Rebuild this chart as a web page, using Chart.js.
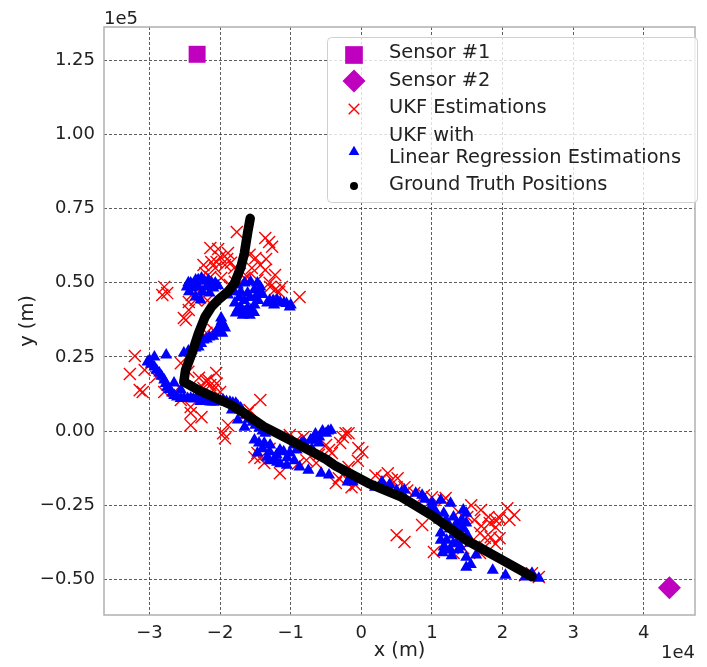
<!DOCTYPE html>
<html>
<head>
<meta charset="utf-8">
<script src="https://cdn.jsdelivr.net/npm/chart.js@4.4.1/dist/chart.umd.min.js"></script>
<style>
  html, body { margin: 0; padding: 0; background: #fff; }
  #wrap { width: 707px; height: 667px; }
</style>
</head>
<body>
<div id="wrap"><canvas id="trackChart" width="707" height="667"></canvas></div>
<script>
// ==================== DATA (x in 1e4 m, y in 1e5 m) ====================
const xTicks = [-3, -2, -1, 0, 1, 2, 3, 4];
const xTickLabels = ['−3', '−2', '−1', '0', '1', '2', '3', '4'];
const yTicks = [-0.5, -0.25, 0, 0.25, 0.5, 0.75, 1.0, 1.25];
const yTickLabels = ['−0.50', '−0.25', '0.00', '0.25', '0.50', '0.75', '1.00', '1.25'];

const sensor1 = [[-2.326, 1.270]];
const sensor2 = [[4.364, -0.528]];

// red crosses
const ukfPts = [
  [-1.764,0.671],[-1.361,0.651],[-1.306,0.637],[-1.264,0.621],[-2.139,0.617],[-2.028,0.614],
  [-1.889,0.600],[-2.000,0.587],[-1.583,0.594],[-1.500,0.583],[-1.431,0.560],[-2.236,0.560],
  [-2.125,0.570],[-2.069,0.550],[-1.931,0.560],[-1.847,0.567],[-2.208,0.533],[-2.139,0.519],
  [-1.361,0.543],[-1.222,0.526],[-1.611,0.519],[-1.472,0.509],[-1.792,0.503],[-1.653,0.516],
  [-2.792,0.486],[-2.819,0.459],[-2.750,0.465],[-2.403,0.459],[-2.444,0.435],[-2.347,0.442],
  [-1.222,0.476],[-1.292,0.486],[-1.125,0.486],[-1.167,0.469],[-0.875,0.452],[-2.444,0.408],
  [-2.514,0.381],[-1.986,0.516],[-1.861,0.492],[-3.208,0.253],[-3.278,0.192],[-3.069,0.206],
  [-3.139,0.138],[-3.097,0.132],[-2.903,0.182],[-2.792,0.132],[-2.556,0.229],[-2.583,0.148],
  [-2.417,0.081],[-2.417,0.061],[-2.417,0.020],[-2.264,0.047],[-2.167,0.172],[-2.139,0.155],
  [-2.097,0.138],[-2.056,0.196],[-2.236,0.145],[-2.000,0.132],[-2.097,0.341],[-2.194,0.331],
  [-1.431,0.105],[-1.583,0.071],[-1.889,0.020],[-1.958,-0.007],[-1.931,-0.024],[-2.333,0.128],
  [-2.556,0.105],[-1.431,-0.091],[-1.153,-0.142],[-1.375,-0.108],[-1.514,-0.088],[-0.819,-0.020],
  [-0.917,-0.030],[-0.639,-0.108],[-0.458,-0.064],[-0.264,-0.020],[-0.181,-0.007],[-0.500,-0.047],
  [-1.611,0.061],[-1.472,-0.074],[-1.014,-0.013],[-0.778,-0.098],[-0.417,-0.074],[-0.042,-0.057],
  [0.014,-0.071],[-0.181,-0.121],[-0.264,-0.148],[-0.139,-0.189],[-0.361,-0.175],[0.375,-0.142],
  [0.514,-0.159],[0.292,-0.159],[0.431,-0.165],[-0.222,-0.007],[-0.319,-0.159],[-0.083,-0.182],
  [0.500,-0.189],[0.611,-0.189],[0.750,-0.209],[0.889,-0.216],[1.000,-0.223],[1.194,-0.226],
  [1.694,-0.266],[1.819,-0.310],[1.903,-0.324],[1.681,-0.344],[1.833,-0.358],[1.958,-0.361],
  [2.069,-0.260],[2.167,-0.283],[2.097,-0.300],[1.958,-0.293],[0.861,-0.317],[0.500,-0.351],
  [0.611,-0.374],[1.028,-0.408],[1.306,-0.411],[1.444,-0.395],[2.417,-0.479],[2.319,-0.486],
  [2.514,-0.492],[1.167,-0.233],[1.028,-0.256],[1.750,-0.391],[1.681,-0.411],[-2.486,0.374],
  [1.556,-0.250],[1.375,-0.273],
  [-1.900,0.580],[-2.050,0.570],[-1.800,0.550],[-1.350,0.580],[-1.300,0.500],[-1.720,0.530],
  [-1.550,0.550],[-2.180,0.440],[-2.300,0.470],[-2.200,0.170],[-2.050,0.160],[-2.300,0.180],
  [-2.450,0.200],[-1.300,-0.060],[-0.900,-0.110],[-0.600,-0.080],[-0.300,-0.040],[-0.050,-0.100],
  [1.700,-0.320],[1.800,-0.290],[1.600,-0.300],[1.900,-0.300],[1.500,-0.290],[1.750,-0.360],
  [1.900,-0.380],[0.200,-0.150],[0.650,-0.200]
];

// blue triangles
const ukfLrPts = [
  [-2.417,0.499],[-2.347,0.509],[-2.264,0.516],[-2.167,0.509],[-2.069,0.499],[-2.403,0.482],
  [-2.306,0.486],[-2.194,0.486],[-2.097,0.482],[-2.472,0.486],[-2.347,0.452],[-2.278,0.442],
  [-1.847,0.486],[-1.750,0.492],[-1.653,0.499],[-1.569,0.503],[-1.472,0.499],[-1.708,0.469],
  [-1.611,0.465],[-1.514,0.476],[-1.431,0.486],[-1.792,0.432],[-1.708,0.418],[-1.611,0.415],
  [-1.514,0.425],[-1.778,0.398],[-1.653,0.401],[-1.569,0.408],[-1.889,0.459],[-1.333,0.432],
  [-1.194,0.442],[-1.097,0.432],[-1.014,0.418],[-1.236,0.425],[-1.986,0.381],[-1.958,0.358],
  [-2.000,0.341],[-1.931,0.347],[-2.056,0.331],[-2.153,0.317],[-2.236,0.307],[-2.306,0.283],
  [-2.403,0.273],[-2.514,0.263],[-2.764,0.256],[-2.931,0.250],[-3.028,0.233],
  [-3.000,0.239],[-2.931,0.216],[-2.861,0.196],[-2.792,0.172],[-2.750,0.148],[-2.681,0.128],
  [-2.611,0.115],[-2.514,0.111],[-2.417,0.111],[-2.333,0.111],[-2.236,0.105],[-2.139,0.098],
  [-2.056,0.098],[-1.958,0.105],[-1.861,0.098],[-1.778,0.094],[-1.722,0.071],[-1.639,0.054],
  [-1.542,0.030],[-1.444,0.010],[-1.361,-0.007],[-2.653,0.162],[-2.556,0.138],[-1.833,0.071],
  [-1.750,0.037],[-1.653,0.013],[-1.514,-0.030],[-1.375,-0.040],[-1.292,-0.047],[-1.153,-0.064],
  [-1.014,-0.074],[-0.917,-0.064],[-0.778,-0.054],[-0.639,-0.030],[-0.500,-0.007],[-0.431,0.003],
  [-1.472,-0.074],[-1.333,-0.088],[-1.194,-0.105],[-1.056,-0.115],[-0.875,-0.121],[-0.750,-0.132],
  [-0.569,-0.142],[-0.458,-0.148],[-0.194,-0.172],[-1.708,0.078],[-0.597,-0.020],[-0.694,-0.030],
  [-0.819,-0.037],[-0.958,-0.047],[-1.236,-0.098],[-0.125,-0.172],[0.292,-0.172],[0.569,-0.206],
  [-0.181,-0.165],[0.194,-0.189],[0.611,-0.199],[0.861,-0.216],[0.986,-0.256],[1.125,-0.233],
  [1.264,-0.243],[1.167,-0.277],[1.306,-0.290],[1.444,-0.266],[1.486,-0.277],[1.403,-0.324],
  [1.486,-0.310],[1.125,-0.344],[1.208,-0.368],[1.167,-0.391],[1.264,-0.401],[1.347,-0.378],
  [1.444,-0.368],[1.542,-0.378],[1.486,-0.425],[1.625,-0.418],[1.486,-0.459],[1.861,-0.469],
  [2.042,-0.486],[2.319,-0.492],[2.417,-0.479],[2.514,-0.496],[1.125,-0.368],[1.236,-0.317],
  [1.333,-0.334],
  [-2.450,0.500],[-2.380,0.495],[-2.310,0.510],[-2.220,0.505],[-2.120,0.500],[-2.030,0.490],
  [-2.440,0.470],[-2.250,0.470],[-2.150,0.465],[-1.800,0.470],[-1.730,0.450],[-1.660,0.440],
  [-1.580,0.450],[-1.500,0.450],[-1.450,0.470],[-1.750,0.410],[-1.680,0.390],[-1.580,0.390],
  [-1.520,0.400],[-1.460,0.440],[-1.400,0.460],[-1.300,0.440],[-1.250,0.440],[-1.150,0.435],
  [-1.060,0.430],[-1.000,0.425],[-1.980,0.370],[-2.020,0.350],[-1.970,0.330],[-2.100,0.320],
  [-2.190,0.310],[-2.270,0.295],[-2.350,0.280],[-2.450,0.270],
  [-2.980,0.225],[-2.900,0.205],[-2.830,0.185],[-2.770,0.160],[-2.720,0.140],
  [-2.650,0.120],[-2.560,0.110],[-2.460,0.110],[-2.380,0.108],[-2.280,0.100],[-2.190,0.100],
  [-2.100,0.098],[-2.000,0.100],[-1.910,0.100],[-1.820,0.095],[-1.750,0.085],[-1.680,0.065],
  [-1.600,0.040],[-1.500,0.020],[-1.400,0.000],[-1.450,-0.040],[-1.400,-0.060],[-1.300,-0.070],
  [-1.200,-0.080],[-1.100,-0.070],[-1.050,-0.090],[-1.300,-0.100],[-1.150,-0.110],[-0.950,-0.100],
  [-0.850,-0.040],[-0.720,-0.030],[-0.650,-0.010],[-0.550,0.000],[-0.470,0.000],[-0.600,-0.040],
  [-0.700,-0.060],[0.900,-0.230],[1.000,-0.240],[1.050,-0.270],[1.100,-0.300],[1.200,-0.300],
  [1.250,-0.330],[1.300,-0.350],[1.350,-0.310],[1.420,-0.300],[1.450,-0.330],[1.500,-0.350],
  [1.400,-0.390],[1.300,-0.380],[1.200,-0.400],[1.150,-0.410],[1.280,-0.420],[1.380,-0.400],
  [1.550,-0.450],[0.770,-0.210],[0.500,-0.200],[0.400,-0.180]
];

// ground truth track
const truthPts = [
  [-1.574,0.717],[-1.611,0.668],[-1.657,0.599],[-1.704,0.554],[-1.796,0.498],[-1.889,0.470],
  [-2.028,0.442],[-2.121,0.419],[-2.213,0.385],[-2.306,0.330],[-2.399,0.262],[-2.490,0.206],
  [-2.514,0.166],[-2.306,0.138],[-1.843,0.088],[-1.657,0.060],[-1.379,0.015],[-1.010,-0.030],
  [-0.500,-0.095],[-0.361,-0.118],[0.101,-0.176],[0.565,-0.222],[1.028,-0.289],[1.490,-0.368],
  [1.954,-0.429],[2.417,-0.491]
];

const toXY = pts => pts.map(p => ({ x: p[0], y: p[1] }));

const FONT = '"DejaVu Sans", sans-serif';
const TEXT = '#222';

// ==================== FRAME, OFFSET TEXT, LEGEND ====================
const legendRows = [
  { ds: 0, my: 55, ty: [53] },
  { ds: 1, my: 81, ty: [81] },
  { ds: 2, my: 109, ty: [108] },
  { ds: 3, my: 152, ty: [136, 158] },
  { ds: 4, my: 186, ty: [185] }
];

function roundedRect(ctx, x, y, w, h, r) {
  ctx.beginPath();
  ctx.moveTo(x + r, y);
  ctx.lineTo(x + w - r, y);
  ctx.arcTo(x + w, y, x + w, y + r, r);
  ctx.lineTo(x + w, y + h - r);
  ctx.arcTo(x + w, y + h, x + w - r, y + h, r);
  ctx.lineTo(x + r, y + h);
  ctx.arcTo(x, y + h, x, y + h - r, r);
  ctx.lineTo(x, y + r);
  ctx.arcTo(x, y, x + r, y, r);
  ctx.closePath();
}

const decorations = {
  id: 'decorations',
  afterDraw(chart) {
    const { ctx, chartArea: a } = chart;
    ctx.save();

    // axes frame
    ctx.strokeStyle = '#b0b0b0';
    ctx.lineWidth = 1.5;
    ctx.strokeRect(a.left, a.top, a.right - a.left, a.bottom - a.top);

    // offset text of both axes
    ctx.fillStyle = TEXT;
    ctx.font = '18px ' + FONT;
    ctx.textBaseline = 'alphabetic';
    ctx.textAlign = 'left';
    ctx.fillText('1e5', a.left, 24);
    ctx.textAlign = 'right';
    ctx.fillText('1e4', a.right, 658);

    // legend box
    roundedRect(ctx, 327.5, 37.5, 370, 165, 4);
    ctx.fillStyle = 'rgba(255,255,255,0.8)';
    ctx.fill();
    ctx.strokeStyle = '#d0d0d0';
    ctx.lineWidth = 1;
    ctx.stroke();

    ctx.font = '19.4px ' + FONT;
    ctx.textAlign = 'left';
    ctx.textBaseline = 'middle';
    legendRows.forEach(row => {
      const ds = chart.data.datasets[row.ds];
      ctx.fillStyle = ds.backgroundColor;
      ctx.strokeStyle = ds.borderColor;
      ctx.lineWidth = ds.legendBorder;
      Chart.helpers.drawPoint(ctx, {
        pointStyle: ds.legendStyle,
        radius: ds.legendRadius,
        rotation: 0,
        borderWidth: ds.legendBorder
      }, 354, row.my);
      ctx.fillStyle = TEXT;
      ds.label.split('\n').forEach((line, i) => ctx.fillText(line, 389, row.ty[i]));
    });

    ctx.restore();
  }
};

// ==================== CHART ====================
new Chart(document.getElementById('trackChart'), {
  type: 'scatter',
  data: {
    datasets: [
      {
        label: 'Sensor #1',
        data: toXY(sensor1),
        pointStyle: 'rect', pointRadius: 12,
        backgroundColor: '#bf00bf', borderColor: '#bf00bf', borderWidth: 0,
        legendStyle: 'rect', legendRadius: 12.5, legendBorder: 0,
        order: 3
      },
      {
        label: 'Sensor #2',
        data: toXY(sensor2),
        pointStyle: 'rectRot', pointRadius: 11.5,
        backgroundColor: '#bf00bf', borderColor: '#bf00bf', borderWidth: 0,
        legendStyle: 'rectRot', legendRadius: 11.5, legendBorder: 0,
        order: 3
      },
      {
        label: 'UKF Estimations',
        data: toXY(ukfPts),
        pointStyle: 'crossRot', pointRadius: 8.5,
        backgroundColor: '#ff0000', borderColor: '#ff0000', borderWidth: 1.4,
        legendStyle: 'crossRot', legendRadius: 7.5, legendBorder: 1.4,
        order: 2
      },
      {
        label: 'UKF with\nLinear Regression Estimations',
        data: toXY(ukfLrPts),
        pointStyle: 'triangle', pointRadius: 7,
        backgroundColor: '#0000ff', borderColor: '#0000ff', borderWidth: 0,
        legendStyle: 'triangle', legendRadius: 6.2, legendBorder: 0,
        order: 1
      },
      {
        label: 'Ground Truth Positions',
        data: toXY(truthPts),
        showLine: true, pointRadius: 0,
        borderColor: '#000', backgroundColor: '#000', borderWidth: 9.5,
        borderCapStyle: 'round', borderJoinStyle: 'round',
        legendStyle: 'circle', legendRadius: 4, legendBorder: 0,
        order: 0
      }
    ]
  },
  options: {
    responsive: false,
    animation: false,
    events: [],
    layout: { padding: { left: 0, right: 2, top: 27, bottom: 0 } },
    plugins: {
      legend: { display: false },
      tooltip: { enabled: false }
    },
    scales: {
      x: {
        type: 'linear',
        min: -3.645, max: 4.726,
        afterBuildTicks: s => { s.ticks = xTicks.map(v => ({ value: v })); },
        afterFit: s => { s.height = 52; },
        ticks: {
          callback: (v, i) => xTickLabels[i],
          font: { family: FONT, size: 18 },
          color: TEXT, padding: 8, maxRotation: 0
        },
        grid: { color: '#333', lineWidth: 0.8, drawTicks: false },
        border: { display: false, dash: [3, 2] },
        title: {
          display: true, text: 'x (m)',
          font: { family: FONT, size: 19.4 }, color: TEXT,
          padding: { top: 0, bottom: 4 }
        }
      },
      y: {
        type: 'linear',
        min: -0.620, max: 1.362,
        afterBuildTicks: s => { s.ticks = yTicks.map(v => ({ value: v })); },
        afterFit: s => { s.width = 104; },
        ticks: {
          callback: (v, i) => yTickLabels[i],
          font: { family: FONT, size: 18 },
          color: TEXT, padding: 9
        },
        grid: { color: '#333', lineWidth: 0.8, drawTicks: false },
        border: { display: false, dash: [3, 2] },
        title: {
          display: true, text: 'y (m)',
          font: { family: FONT, size: 19.4 }, color: TEXT,
          padding: { top: 16, bottom: 0 }
        }
      }
    }
  },
  plugins: [decorations]
});
</script>
</body>
</html>
